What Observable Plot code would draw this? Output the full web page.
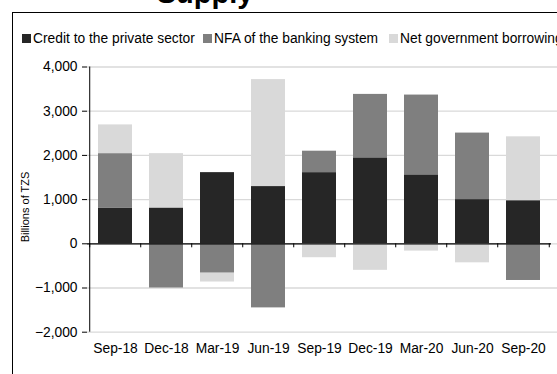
<!DOCTYPE html>
<html>
<head>
<meta charset="utf-8">
<script src="https://cdn.jsdelivr.net/npm/d3@7"></script>
<script src="https://cdn.jsdelivr.net/npm/@observablehq/plot@0.6"></script>
<style>
  html, body { margin: 0; padding: 0; background: #fff; }
  #wrap { position: relative; width: 557px; height: 374px; overflow: hidden; background: #fff; font-family: "Liberation Sans", Arial, sans-serif; }
  #title { position: absolute; left: 0; width: 410px; top: -21.5px; text-align: center; font-weight: bold; font-size: 29px; line-height: 29px; color: #000; white-space: nowrap; }
  #frame { position: absolute; left: 12px; top: 12px; width: 700px; height: 500px; border-left: 1px solid #000; border-top: 1px solid #000; pointer-events: none; }
  .sw { position: absolute; width: 9px; height: 9px; top: 34px; }
  .lt { position: absolute; top: 30px; height: 17px; line-height: 17px; font-size: 13.8px; color: #000; white-space: nowrap; }
  #ylab { position: absolute; left: 25px; top: 207px; transform: translate(-50%, -50%) rotate(-90deg); font-size: 11px; color: #000; white-space: nowrap; }
  #chart { position: absolute; left: 0; top: 0; }
</style>
</head>
<body>
<div id="wrap">
  <div id="chart"></div>
  <div id="title">Supply</div>
  <div id="frame"></div>
  <div id="legend"></div>
  <div id="ylab">Billions of TZS</div>
</div>
<script>
const periods = ["Sep-18","Dec-18","Mar-19","Jun-19","Sep-19","Dec-19","Mar-20","Jun-20","Sep-20"];
const seriesNames = ["Credit to the private sector","NFA of the banking system","Net government borrowing"];
const seriesColors = ["#262626","#7f7f7f","#d9d9d9"];
const creditPrivate = [810, 810, 1610, 1295, 1610, 1945, 1560, 1000, 975];
const nfaBanking    = [1230, -1000, -665, -1450, 485, 1435, 1805, 1505, -830];
const netGovBorrow  = [650, 1230, -200, 2420, -315, -600, -165, -430, 1445];
const yTicks = [-2000, -1000, 0, 1000, 2000, 3000, 4000];

const seriesValues = [creditPrivate, nfaBanking, netGovBorrow];
const rows = [];
seriesNames.forEach((s, si) => periods.forEach((p, pi) => rows.push({period: p, series: s, value: seriesValues[si][pi]})));

const W = 557, H = 374, mL = 87, mR = 6, mT = 66.5, mB = 42.3;
const padIn = 0.33, padOut = 0.165;
const step = (W - mL - mR) / (periods.length - padIn + 2 * padOut);
const yMin = yTicks[0], yMax = yTicks[yTicks.length - 1];

const chart = Plot.plot({
  width: W, height: H,
  marginLeft: mL, marginRight: mR, marginTop: mT, marginBottom: mB,
  style: {fontFamily: "Liberation Sans, Arial, sans-serif", fontSize: "13.8px", color: "#000", background: "transparent"},
  x: {domain: periods, paddingInner: padIn, paddingOuter: padOut, align: 0.5, tickSize: 0, tickPadding: 11, label: null},
  y: {domain: [yMin, yMax], ticks: yTicks, tickFormat: d3.format(","), tickSize: 5, tickPadding: 5, label: null},
  color: {domain: seriesNames, range: seriesColors},
  marks: [
    Plot.ruleY(yTicks, {stroke: "#d9d9d9", strokeWidth: 1.3, insetRight: -mR}),
    Plot.barY(rows, {x: "period", y: "value", fill: "series"}),
    Plot.ruleY([0], {stroke: "#000", strokeWidth: 1.2}),
    Plot.ruleX(periods, {x: d => d, y1: () => 0, y2: () => 0, insetBottom: -4, dx: -step / 2, stroke: "#000"}),
    Plot.ruleX(periods.slice(-1), {x: d => d, y1: () => 0, y2: () => 0, insetBottom: -4, dx: step / 2, stroke: "#000"}),
    Plot.ruleX(periods.slice(0, 1), {x: d => d, y1: () => yMin, y2: () => yMax, dx: -step / 2, stroke: "#000"})
  ]
});
document.getElementById("chart").appendChild(chart);

const legend = document.getElementById("legend");
const swX = [22, 203, 389];
seriesNames.forEach((s, i) => {
  const sw = document.createElement("div");
  sw.className = "sw"; sw.style.left = swX[i] + "px"; sw.style.background = seriesColors[i];
  legend.appendChild(sw);
  const t = document.createElement("div");
  t.className = "lt"; t.style.left = (swX[i] + 11) + "px"; t.textContent = s;
  legend.appendChild(t);
});
</script>
</body>
</html>
